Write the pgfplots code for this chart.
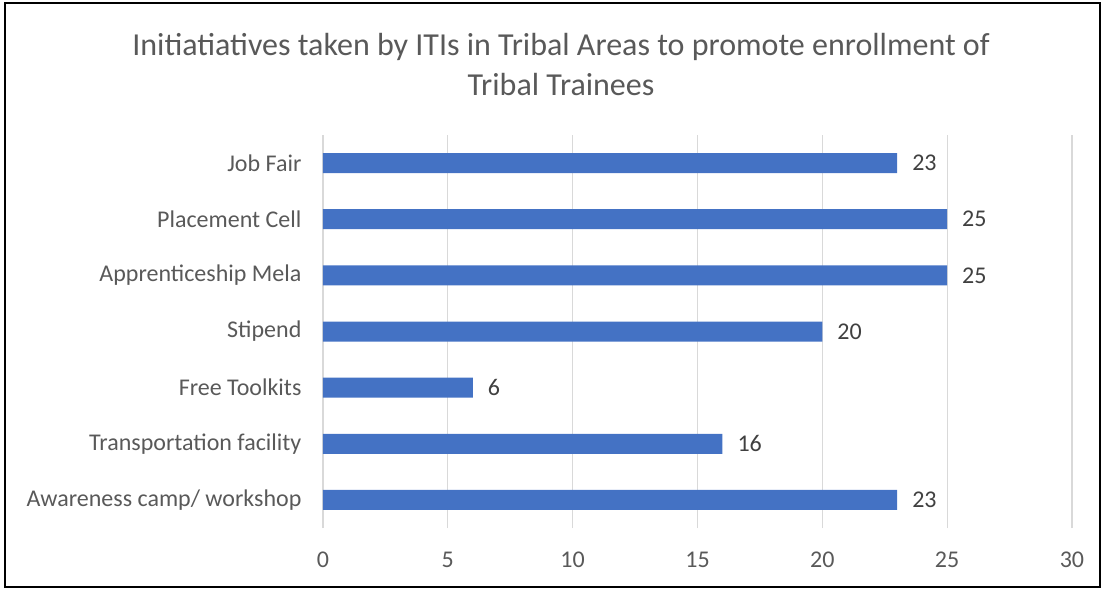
\documentclass[border=0pt]{standalone}
\usepackage{fontspec}
\setmainfont{Carlito}
\usepackage{pgfplots}
\pgfplotsset{compat=1.18}
\definecolor{barblue}{HTML}{4472C4}
\definecolor{gridgray}{HTML}{D9D9D9}
\definecolor{txtgray}{HTML}{595959}
\definecolor{valgray}{HTML}{404040}
\begin{document}
\begin{tikzpicture}[x=0.5pt,y=0.5pt]
\useasboundingbox (0,0) rectangle (1105,590);
\draw[black,line width=0.8pt] (5,3) rectangle (1100,587);
\node[text=txtgray,font=\fontsize{16}{20}\selectfont,align=center] at (561,525) {Initiatiatives taken by ITIs in Tribal Areas to promote enrollment of\\Tribal Trainees};
\begin{axis}[
  at={(161.5pt,31pt)}, anchor=south west,
  scale only axis, width=374.5pt, height=196.5pt,
  xbar, bar width=10pt,
  xmin=0, xmax=30, xtick={0,5,...,30},
  ymin=-0.5, ymax=6.5,
  ytick={0,...,6},
  yticklabels={Awareness camp/ workshop,Transportation facility,Free Toolkits,Stipend,Apprenticeship Mela,Placement Cell,Job Fair},
  axis line style={draw=none},
  xmajorgrids, major grid style={gridgray, line width=0.6pt},
  tick style={draw=none},
  ticklabel style={text=txtgray, font=\fontsize{12}{14}\selectfont},
  /pgf/number format/assume math mode=true,
  xticklabel style={yshift=-8.5pt},
  yticklabel style={xshift=-3pt},
  nodes near coords,
  nodes near coords style={text=valgray, font=\fontsize{12}{14}\selectfont, xshift=4pt},
  clip=false,
]
\addplot[fill=barblue, draw=none] coordinates {(23,0) (16,1) (6,2) (20,3) (25,4) (25,5) (23,6)};
\end{axis}
\end{tikzpicture}
\end{document}
